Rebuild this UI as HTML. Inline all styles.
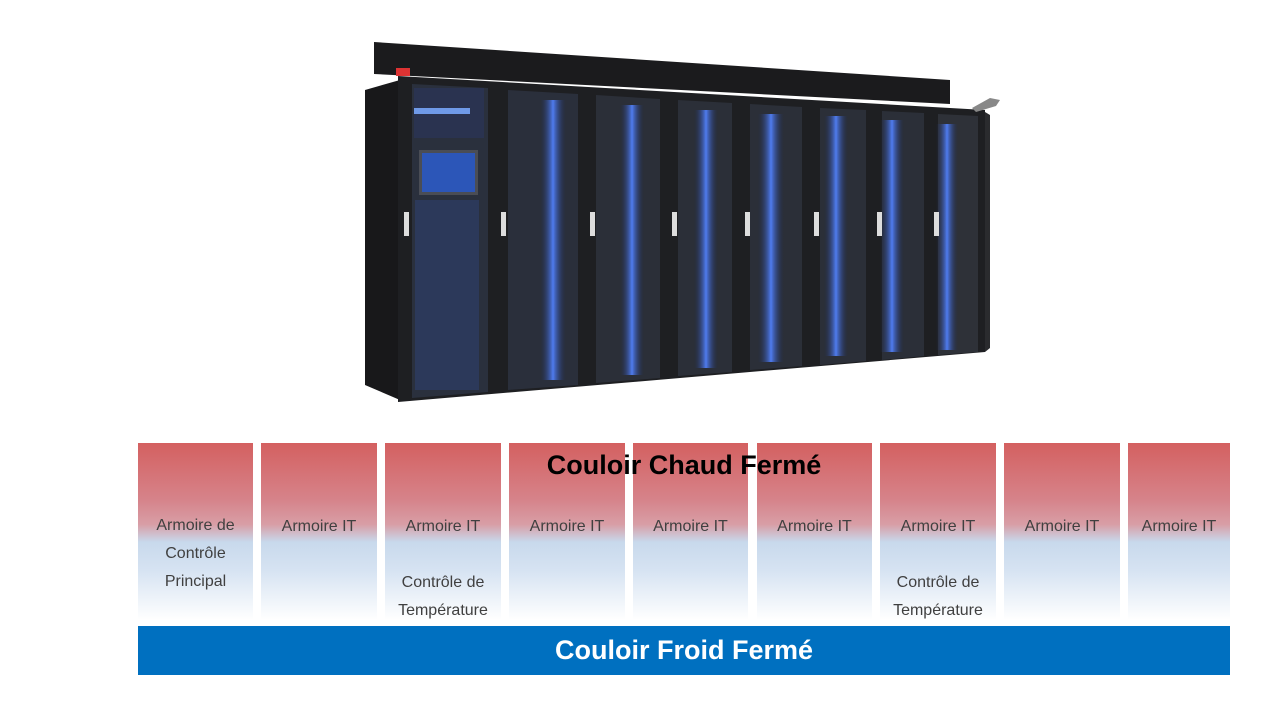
<!DOCTYPE html>
<html><head><meta charset="utf-8"><style>
body{margin:0;width:1280px;height:720px;background:#fff;position:relative;overflow:hidden;font-family:"Liberation Sans",sans-serif}
.col{position:absolute;top:443px;height:177px;background:linear-gradient(180deg,#d46060 0%,#d6838a 32%,#d89ea6 46%,#c8d9ec 56%,#d6e3f2 72%,#ffffff 100%);}
.lbl{position:absolute;width:100%;text-align:center;color:#404040;font-size:16px;line-height:28px}
#hot{position:absolute;left:138px;width:1092px;top:450px;text-align:center;font-weight:bold;font-size:27px;color:#000}
#cold{position:absolute;left:138px;top:626px;width:1092px;height:49px;background:#0070c0;color:#fff;font-weight:bold;font-size:27px;text-align:center;line-height:49px}
</style></head><body>
<svg width="1280" height="440" style="position:absolute;left:0;top:0">
<defs>
<linearGradient id="bl" x1="0" x2="1"><stop offset="0" stop-color="#1d2a55" stop-opacity="0"/><stop offset=".5" stop-color="#4f7cf0"/><stop offset="1" stop-color="#1d2a55" stop-opacity="0"/></linearGradient>
</defs>
<polygon points="374,42 950,80 950,104 374,74" fill="#1b1b1d"/>
<polygon points="365,90 400,80 400,400 365,385" fill="#18181a"/>
<polygon points="398,76 985,110 985,352 398,402" fill="#1e1f22"/>
<polygon points="985,112 990,115 990,348 985,352" fill="#2a2b2e"/>
<rect x="396" y="68" width="14" height="8" fill="#d33"/>
<!-- doors glass -->
<polygon points="412,84 488,88 488,392 412,398" fill="#2a303d"/>
<polygon points="508,90 578,94 578,385 508,390" fill="#2a2f3b"/>
<polygon points="596,95 660,99 660,378 596,383" fill="#2b2f38"/>
<polygon points="678,100 732,103 732,372 678,376" fill="#2b2f38"/>
<polygon points="750,104 802,107 802,366 750,370" fill="#2b2f38"/>
<polygon points="820,108 866,110 866,361 820,365" fill="#2b2f38"/>
<polygon points="882,111 924,113 924,356 882,360" fill="#2b2f38"/>
<polygon points="938,114 978,116 978,352 938,355" fill="#2e3138"/>
<!-- blue stripes -->
<rect x="540" y="100" width="26" height="280" fill="url(#bl)"/>
<rect x="620" y="105" width="24" height="270" fill="url(#bl)"/>
<rect x="694" y="110" width="24" height="258" fill="url(#bl)"/>
<rect x="758" y="114" width="26" height="248" fill="url(#bl)"/>
<rect x="824" y="116" width="24" height="240" fill="url(#bl)"/>
<rect x="880" y="120" width="24" height="232" fill="url(#bl)"/>
<rect x="936" y="124" width="22" height="226" fill="url(#bl)"/>
<rect x="415" y="200" width="64" height="190" fill="#2f3f6e" opacity=".6"/>
<rect x="414" y="88" width="70" height="50" fill="#2a3350"/>
<rect x="414" y="108" width="56" height="6" fill="#6f9ae8"/>
<rect x="419" y="150" width="59" height="45" fill="#4a4d55"/>
<rect x="422" y="153" width="53" height="39" fill="#2c56b8"/>
<g fill="#ddd">
<rect x="404" y="212" width="5" height="24"/><rect x="501" y="212" width="5" height="24"/><rect x="590" y="212" width="5" height="24"/><rect x="672" y="212" width="5" height="24"/><rect x="745" y="212" width="5" height="24"/><rect x="814" y="212" width="5" height="24"/><rect x="877" y="212" width="5" height="24"/><rect x="934" y="212" width="5" height="24"/>
</g>
<polygon points="972,108 990,98 1000,100 996,106 976,112" fill="#888"/>
</svg>
<div class="col" style="left:138px;width:115px"><div class="lbl" style="top:69px">Armoire de<br>Contrôle<br>Principal</div></div>
<div class="col" style="left:261px;width:116px"><div class="lbl" style="top:70px">Armoire IT</div></div>
<div class="col" style="left:385px;width:116px"><div class="lbl" style="top:70px">Armoire IT</div><div class="lbl" style="top:126px">Contrôle de<br>Température</div></div>
<div class="col" style="left:509px;width:116px"><div class="lbl" style="top:70px">Armoire IT</div></div>
<div class="col" style="left:633px;width:115px"><div class="lbl" style="top:70px">Armoire IT</div></div>
<div class="col" style="left:757px;width:115px"><div class="lbl" style="top:70px">Armoire IT</div></div>
<div class="col" style="left:880px;width:116px"><div class="lbl" style="top:70px">Armoire IT</div><div class="lbl" style="top:126px">Contrôle de<br>Température</div></div>
<div class="col" style="left:1004px;width:116px"><div class="lbl" style="top:70px">Armoire IT</div></div>
<div class="col" style="left:1128px;width:102px"><div class="lbl" style="top:70px">Armoire IT</div></div>
<div id="hot">Couloir Chaud Fermé</div>
<div id="cold">Couloir Froid Fermé</div>
</body></html>
